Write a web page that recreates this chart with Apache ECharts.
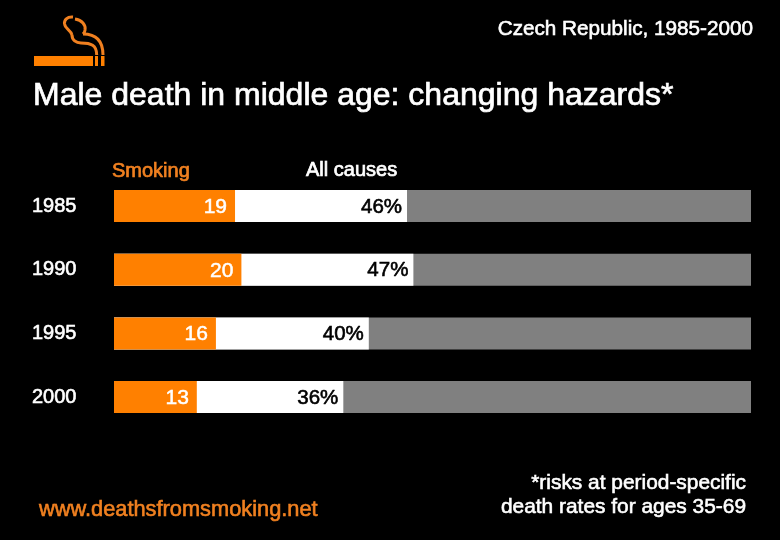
<!DOCTYPE html>
<html lang="en">

<head>
  <meta charset="utf-8">
  <style>
    html, body { margin: 0; height: 100%; background: #000; }
    #chart_1 { width: 780px; height: 540px; }
  </style>
</head>

<body>
  <div id="chart_1"></div>
  <script src="https://cdn.jsdelivr.net/npm/echarts@6/dist/echarts.min.js"></script>
  <script>
    const years = ['1985', '1990', '1995', '2000'];
    const smoking = [19, 20, 16, 13];
    const allCauses = [46, 47, 40, 36];
    const total = [100, 100, 100, 100];

    const orange = '#ff8000';
    const font = '"Liberation Sans", Arial, sans-serif';

    function text(str, x, y, size, color, align, stroke) {
      return {
        type: 'text',
        x: x,
        y: y,
        style: {
          text: str,
          fill: color,
          stroke: color,
          lineWidth: stroke === undefined ? 0.6 : stroke,
          font: size + 'px ' + font,
          textAlign: align || 'left',
          textVerticalAlign: 'middle'
        }
      };
    }

    // one stretch of the smoke curl on the logo
    function curve(x1, y1, cpx1, cpy1, cpx2, cpy2, x2, y2) {
      return {
        type: 'bezierCurve',
        shape: { x1: x1, y1: y1, cpx1: cpx1, cpy1: cpy1, cpx2: cpx2, cpy2: cpy2, x2: x2, y2: y2 },
        style: { fill: 'none', stroke: '#f08020', lineWidth: 3 }
      };
    }

    var myChart = echarts.init(document.getElementById('chart_1'), null, { renderer: 'canvas' });

    var option = {
      backgroundColor: '#000',
      animation: false,
      grid: { left: 114, right: 29, top: 174.2, height: 254.7 },
      xAxis: { type: 'value', min: 0, max: 100, show: false },
      yAxis: {
        type: 'category',
        inverse: true,
        data: years,
        axisLine: { show: false },
        axisTick: { show: false },
        splitLine: { show: false },
        axisLabel: {
          color: '#fff',
          fontFamily: font,
          fontSize: 20,
          align: 'left',
          margin: 82,
          padding: [0, 0, 6, 0],
          textBorderColor: '#fff',
          textBorderWidth: 0.6
        }
      },
      series: [
        {
          name: 'Rest',
          type: 'bar',
          barWidth: 32,
          barGap: '-100%',
          itemStyle: { color: '#808080' },
          data: total
        },
        {
          name: 'All causes',
          type: 'bar',
          barWidth: 32,
          itemStyle: { color: '#fff' },
          label: {
            show: true,
            position: 'insideRight',
            distance: 5,
            offset: [0, 1],
            color: '#000',
            fontFamily: font,
            fontSize: 20.5,
            textBorderColor: '#000',
            textBorderWidth: 0.6,
            formatter: '{c}%'
          },
          data: allCauses
        },
        {
          name: 'Smoking',
          type: 'bar',
          barWidth: 32,
          itemStyle: { color: orange },
          label: {
            show: true,
            position: 'insideRight',
            distance: 8,
            offset: [0, 1],
            color: '#fff',
            fontFamily: font,
            fontSize: 21,
            textBorderColor: '#fff',
            textBorderWidth: 0.5
          },
          data: smoking
        }
      ],
      graphic: [
        text('Czech Republic, 1985-2000', 753, 29, 20.7, '#fff', 'right'),
        text('Male death in middle age: changing hazards*', 33, 96, 32, '#fff', 'left', 0.7),
        text('Smoking', 112, 171, 20, '#f08020', 'left', 0.7),
        text('All causes', 306, 170, 20, '#fff', 'left', 0.7),
        text('www.deathsfromsmoking.net', 39, 510, 21.8, '#f08020'),
        text('*risks at period-specific', 746, 483, 20.9, '#fff', 'right'),
        text('death rates for ages 35-69', 746, 507, 20.9, '#fff', 'right'),
        // cigarette logo
        { type: 'rect', shape: { x: 34, y: 56, width: 59, height: 10 }, style: { fill: orange } },
        { type: 'rect', shape: { x: 95, y: 56, width: 3, height: 10 }, style: { fill: orange } },
        { type: 'rect', shape: { x: 101, y: 56, width: 3.5, height: 10 }, style: { fill: orange } },
        curve(73, 17, 67, 16.5, 64, 20, 64.5, 24),
        curve(64.5, 24, 65, 29, 71, 30, 72, 35),
        curve(72, 35, 72, 40, 76, 43, 81, 43),
        curve(81, 43, 91, 43, 96.7, 45, 96.7, 55),
        curve(75, 19, 82, 20, 86, 25, 85, 30),
        curve(85, 30, 85, 32, 84, 33, 83, 34),
        curve(83, 34, 93, 34, 103, 38, 103, 55)
      ]
    };
    myChart.setOption(option);
  </script>
</body>

</html>
